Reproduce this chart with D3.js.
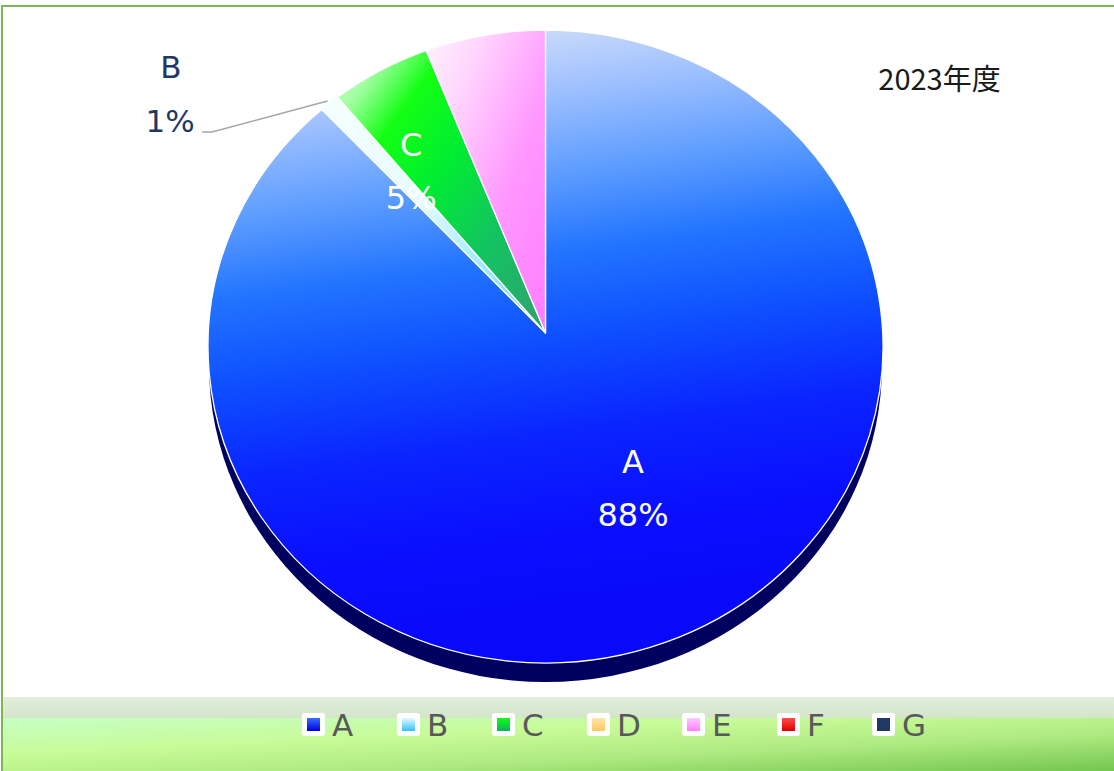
<!DOCTYPE html>
<html><head><meta charset="utf-8">
<script src="https://cdn.jsdelivr.net/npm/d3@7"></script>
<style>body{margin:0;background:#fff}svg{display:block}</style>
</head><body><svg id="c" width="1114" height="771"></svg>
<script>
// ---- data ----
const categories = ["A","B","C","D","E","F","G"];
const values = [88, 1, 5, 0, 6, 0, 0];
const showLabel = ["inside","outside","inside","none","none","none","none"];
const title = "2023年度";

// ---- styles ----
const sliceGrad = {
  A: {v:[0,0,0.15,1], stops:[[0,"#eaeef6"],[0.08,"#c6d8fb"],[0.17,"#9ec0ff"],[0.3,"#5c9cff"],[0.42,"#2274ff"],[0.55,"#0e50ff"],[0.7,"#0a24ff"],[0.85,"#0a0eff"],[1,"#0808fa"]]},
  B: {v:[0,0,1,1], stops:[[0,"#f6ffff"],[0.45,"#e6fbff"],[0.8,"#8ae6ff"],[1,"#38c8ff"]]},
  C: {v:[0,0,1,1], stops:[[0,"#c8ffc8"],[0.12,"#a4ffa4"],[0.26,"#14ff14"],[0.45,"#00ee30"],[0.7,"#12c460"],[1,"#32a070"]]},
  D: {v:[0,0,0,1], stops:[[0,"#ffe6b0"],[1,"#ffc860"]]},
  E: {v:[0,0,1,1], stops:[[0,"#fff4fd"],[0.25,"#ffd4fd"],[0.6,"#ff98ff"],[1,"#ff7cff"]]},
  F: {v:[0,0,0,1], stops:[[0,"#ff5050"],[1,"#e00000"]]},
  G: {v:[0,0,0,1], stops:[[0,"#203864"],[1,"#203864"]]}
};
const legendGrad = {
  A:["#3a6cff","#0000e0"], B:["#e6fbff","#30c0ff"], C:["#10ff10","#10b060"],
  D:["#ffe6a8","#ffc860"], E:["#ffc8ff","#ff80ff"], F:["#ff4c4c","#e00000"], G:["#203864","#203864"]
};

const svg = d3.select("#c");
const W = 1114, H = 771;
const defs = svg.append("defs");
function lin(id, v, stops, units) {
  const g = defs.append("linearGradient").attr("id", id)
    .attr("x1", v[0]).attr("y1", v[1]).attr("x2", v[2]).attr("y2", v[3]);
  if (units) g.attr("gradientUnits", units);
  stops.forEach(s => g.append("stop").attr("offset", s[0]).attr("stop-color", s[1]));
}
categories.forEach(c => {
  lin("g" + c, sliceGrad[c].v, sliceGrad[c].stops);
  lin("l" + c, [0,0,0,1], [[0, legendGrad[c][0]],[1, legendGrad[c][1]]]);
});
lin("bandTop", [0,0,0,1], [[0,"#e2eedb"],[1,"#d4e5cb"]]);
lin("bandBot", [0,0,1,1], [[0,"#c6ffc4"],[0.35,"#c8fb98"],[0.65,"#aeea80"],[1,"#74c650"]]);

// background + border
svg.append("rect").attr("x",0).attr("y",0).attr("width",W).attr("height",H).attr("fill","#fff");
svg.append("rect").attr("x",2).attr("y",6).attr("width",W+10).attr("height",H+10)
  .attr("fill","#fff").attr("stroke","#70ad47").attr("stroke-width",1.8);

// ---- pie geometry (tilted ellipse) ----
const cx = 545.5, cy = 346.5, rx = 337.5, ry = 316.5;
const apex = [545.5, 333];
const depth = 19;
const u = [(apex[0]-cx)/rx, (apex[1]-cy)/ry];
function edge(theta) {
  const d = [Math.sin(theta), -Math.cos(theta)];
  const ud = u[0]*d[0] + u[1]*d[1];
  const t = -ud + Math.sqrt(ud*ud - (u[0]*u[0]+u[1]*u[1]) + 1);
  return [apex[0] + t*rx*d[0], apex[1] + t*ry*d[1]];
}
const pie = d3.pie().sort(null).value(d => d.v);
const arcs = pie(categories.map((c,i) => ({c, v: values[i], i})));

function slicePath(a) {
  const p0 = edge(a.startAngle), p1 = edge(a.endAngle);
  const large = (a.endAngle - a.startAngle) > Math.PI ? 1 : 0;
  return `M${apex[0]},${apex[1]}L${p0[0]},${p0[1]}A${rx},${ry} 0 ${large} 1 ${p1[0]},${p1[1]}Z`;
}

// side (depth)
svg.append("ellipse").attr("cx", cx).attr("cy", cy + depth).attr("rx", rx - 1).attr("ry", ry)
  .attr("fill", "#00005e");

const explode = {B: 3};
svg.append("g").selectAll("path").data(arcs.filter(a => a.value > 0)).join("path")
  .attr("d", slicePath)
  .attr("transform", a => {
    const e = explode[a.data.c] || 0, m = (a.startAngle + a.endAngle)/2;
    return `translate(${e*Math.sin(m)},${-e*Math.cos(m)})`;
  })
  .attr("fill", a => `url(#g${a.data.c})`)
  .attr("stroke", "#fff").attr("stroke-width", 1.3).attr("stroke-linejoin","round");

// ---- data labels ----
const fontF = "'DejaVu Sans', 'Noto Sans', sans-serif";
const inPos = {A: [0.54, -0.124], C: [0.66, -0.113]};  // radius fraction, angle nudge
arcs.forEach(a => {
  const c = a.data.c, kind = showLabel[a.data.i];
  const pct = Math.round(a.value / d3.sum(values) * 100) + "%";
  if (kind === "inside") {
    const m = (a.startAngle + a.endAngle)/2 + inPos[c][1], f = inPos[c][0];
    const x = apex[0] + f*rx*Math.sin(m), y = apex[1] - f*ry*Math.cos(m);
    const g = svg.append("g").attr("font-family", fontF).attr("font-size", 32)
      .attr("fill", "#fff").attr("text-anchor", "middle");
    g.append("text").attr("x", x).attr("y", y - 10).text(c);
    g.append("text").attr("x", x).attr("y", y + 43).text(pct);
  } else if (kind === "outside") {
    const m = (a.startAngle + a.endAngle)/2;
    const p = edge(m);
    const e = explode[c] || 0;
    const px = p[0] + e*Math.sin(m), py = p[1] - e*Math.cos(m);
    const lx = 170, ly = 104;
    svg.append("path")
      .attr("d", `M${px},${py}L${lx+42},${ly+28}L${lx+32},${ly+28}`)
      .attr("fill","none").attr("stroke","#a6a6a6").attr("stroke-width",1.5);
    const g = svg.append("g").attr("font-family", fontF).attr("font-size", 31)
      .attr("fill", "#1f3864").attr("text-anchor", "middle");
    g.append("text").attr("x", lx + 1).attr("y", ly - 26).text(c);
    g.append("text").attr("x", lx).attr("y", ly + 28).text(pct);
  }
});

// title
svg.append("text").attr("x", 939.5).attr("y", 90).attr("text-anchor","middle")
  .attr("font-family", "'Noto Sans CJK JP', sans-serif").attr("font-size", 29)
  .attr("fill", "#1a1a1a").text(title);

// ---- legend band ----
svg.append("rect").attr("x", 3).attr("y", 697).attr("width", W - 3).attr("height", 21).attr("fill","url(#bandTop)");
svg.append("rect").attr("x", 3).attr("y", 718).attr("width", W - 3).attr("height", H - 718).attr("fill","url(#bandBot)");

const lx0 = 302, lstep = 95;
const leg = svg.append("g").selectAll("g").data(categories).join("g")
  .attr("transform", (d,i) => `translate(${lx0 + i*lstep},713)`);
leg.append("rect").attr("width", 23).attr("height", 23).attr("rx", 3).attr("fill", "#fff");
leg.append("rect").attr("x", 5).attr("y", 5).attr("width", 13).attr("height", 13)
  .attr("fill", d => `url(#l${d})`);
leg.append("text").attr("x", 30).attr("y", 23).attr("font-family", fontF).attr("font-size", 31)
  .attr("fill", "#595959").text(d => d);
</script></body></html>
